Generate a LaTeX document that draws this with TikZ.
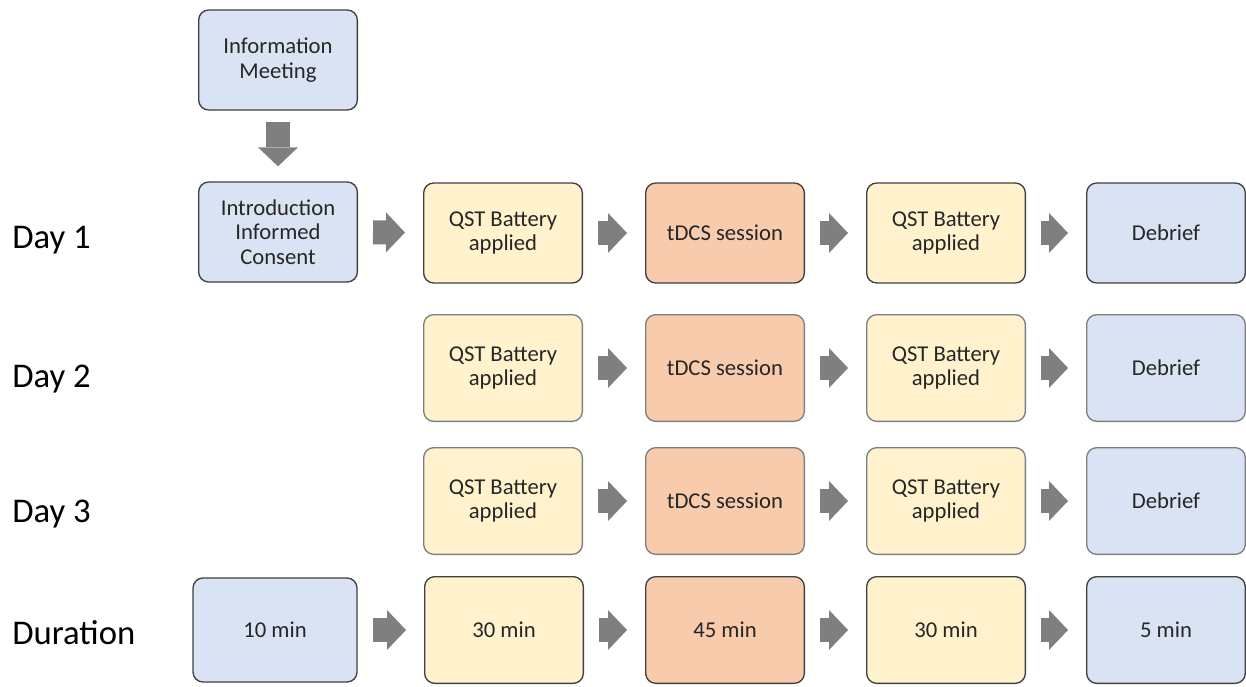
\documentclass[tikz,border=0pt]{standalone}
\usepackage{fontspec}
\setmainfont{Carlito}
\usetikzlibrary{arrows.meta}

\definecolor{infofill}{HTML}{DAE3F3}
\definecolor{qstfill}{HTML}{FFF2CC}
\definecolor{tdcsfill}{HTML}{F8CBAD}
\definecolor{darkline}{HTML}{404040}
\definecolor{lightline}{HTML}{7F7F7F}
\definecolor{arrowgray}{HTML}{7F7F7F}
\definecolor{txt}{HTML}{262626}

\tikzset{
  stage/.style={draw=darkline, line width=1pt, rounded corners=7.5pt,
    minimum width=119pt, minimum height=75pt, inner sep=2pt, align=center,
    text=txt, font=\fontsize{17}{18.5}\selectfont},
  infobox/.style={stage, fill=infofill},
  qstbox/.style={stage, fill=qstfill},
  tdcsbox/.style={stage, fill=tdcsfill},
  faint/.style={draw=lightline, minimum height=80pt},
  daylabel/.style={anchor=base west, inner sep=0pt, text=black,
    font=\fontsize{26}{28}\selectfont},
  blockarrow/.style={draw=arrowgray, line width=18pt,
    -{Triangle[length=14.25pt, width=30pt, line width=0pt]},
    shorten <=11.25pt, shorten >=13.5pt}
}

\begin{document}
\begin{tikzpicture}[x=0.75pt,y=-0.75pt]
  \useasboundingbox (0,0) rectangle (1246,686);

  %% row labels
  \node[daylabel] (lab1) at (12,248) {Day 1};
  \node[daylabel] (lab2) at (12,387) {Day 2};
  \node[daylabel] (lab3) at (12,522) {Day 3};
  \node[daylabel] (labD) at (12,644) {Duration};

  %% first column
  \node[infobox] (info)  at (278,60)  {Information\\Meeting};
  \node[infobox] (intro) at (278,232) {Introduction\\Informed\\Consent};
  \draw[blockarrow, shorten <=8.25pt, shorten >=11.25pt] (info) -- (intro);

  %% Day 1
  \node[qstbox]  (qstA1) at (503,233) {QST Battery\\applied};
  \node[tdcsbox] (tdcs1) at (725,233) {tDCS session};
  \node[qstbox]  (qstB1) at (946,233) {QST Battery\\applied};
  \node[infobox] (deb1)  at (1166,233) {Debrief};

  %% Day 2 and Day 3
  \foreach \d/\y in {2/368, 3/501}
  {
    \node[qstbox, faint]  (qstA\d) at (503,\y)  {QST Battery\\applied};
    \node[tdcsbox, faint] (tdcs\d) at (725,\y)  {tDCS session};
    \node[qstbox, faint]  (qstB\d) at (946,\y)  {QST Battery\\applied};
    \node[infobox, faint] (deb\d)  at (1166,\y) {Debrief};
  }

  %% Duration
  \node[infobox, minimum width=123pt, minimum height=78pt] (durI) at (275,630) {10 min};
  \node[qstbox,  minimum height=80pt] (durA) at (504,630)  {30 min};
  \node[tdcsbox, minimum height=80pt] (durT) at (725,630)  {45 min};
  \node[qstbox,  minimum height=80pt] (durB) at (946,630)  {30 min};
  \node[infobox, minimum height=80pt] (durE) at (1166,630) {5 min};

  %% arrows between the stages
  \draw[blockarrow] (intro) -- (qstA1);
  \foreach \d in {1,2,3}
  {
    \draw[blockarrow] (qstA\d) -- (tdcs\d);
    \draw[blockarrow] (tdcs\d) -- (qstB\d);
    \draw[blockarrow] (qstB\d) -- (deb\d);
  }
  \draw[blockarrow] (durI) -- (durA);
  \draw[blockarrow] (durA) -- (durT);
  \draw[blockarrow] (durT) -- (durB);
  \draw[blockarrow] (durB) -- (durE);
\end{tikzpicture}
\end{document}
